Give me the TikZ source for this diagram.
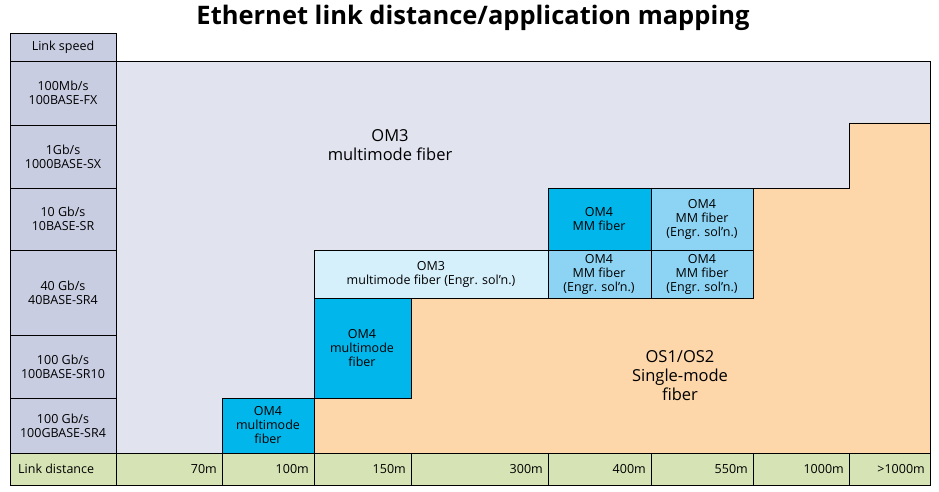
\documentclass[tikz,border=0pt]{standalone}
\usepackage{fontspec}
\setmainfont{Open Sans}
\definecolor{sidebg}{HTML}{C9CDE2}
\definecolor{omthree}{HTML}{E1E3EE}
\definecolor{single}{HTML}{FDD6AA}
\definecolor{distbg}{HTML}{D6E3B5}
\definecolor{omfour}{HTML}{00B6EA}
\definecolor{engr}{HTML}{8DD4F4}
\definecolor{engrlight}{HTML}{D6F0FB}
\tikzset{
  cell/.style={draw=black,line width=0.6pt},
  lbl/.style={font=\fontsize{12.5}{14}\selectfont,align=center,inner sep=0pt},
}
\begin{document}
\begin{tikzpicture}[x=1pt,y=-1pt]
\useasboundingbox (0,0) rectangle (939,492);
\node[font=\fontsize{25.5}{28}\selectfont\bfseries] (title) at (473,18) {Ethernet link distance/application mapping};
% regions
\fill[omthree] (116,61) rectangle (930,453);
\draw[cell,fill=single] (314,453) -- (314,398) -- (411,398) -- (411,298) -- (753,298) -- (753,188)
  -- (849,188) -- (849,123) -- (930,123) -- (930,453) -- cycle;
\draw[cell] (116,61) -- (930,61) -- (930,123);
\draw[cell] (849,123) -- (849,188) -- (548,188) -- (548,250) -- (314,250) -- (314,398) -- (222,398) -- (222,453);
% speed column
\foreach \ya/\yb/\txt in {33/61/{Link speed},61/125/{100Mb/s\\100BASE-FX},125/188/{1Gb/s\\1000BASE-SX},
  188/250/{10 Gb/s\\10BASE-SR},250/335/{40 Gb/s\\40BASE-SR4},335/398/{100 Gb/s\\100BASE-SR10},398/453/{100 Gb/s\\100GBASE-SR4}} {
  \draw[cell,fill=sidebg] (10,\ya) rectangle (116,\yb);
  \node[lbl] at (63,{(\ya+\yb)/2}) {\txt};
}
% distance row
\draw[cell,fill=distbg] (10,453) rectangle (930,485);
\node[lbl,anchor=west] (dist) at (18,469) {Link distance};
\foreach \xa/\xb/\txt in {116/222/70m,222/314/100m,314/411/150m,411/548/300m,548/651/400m,651/753/550m,753/849/1000m,849/930/{>}1000m} {
  \draw[cell] (\xa,453) -- (\xa,485);
  \node[lbl,anchor=east] at (\xb-5,469) {\txt};
}
% fibre boxes
\draw[cell,fill=omfour] (222,398) rectangle (314,453);
\node[lbl] (a) at (268,425) {OM4\\multimode\\fiber};
\draw[cell,fill=omfour] (314,298) rectangle (411,398);
\node[lbl] (b) at (362,348) {OM4\\multimode\\fiber};
\draw[cell,fill=engrlight] (314,250) rectangle (548,298);
\node[lbl] (c) at (431,274) {OM3\\multimode fiber (Engr. sol’n.)};
\draw[cell,fill=omfour] (548,188) rectangle (651,250);
\node[lbl] (d) at (599,219) {OM4\\MM fiber};
\draw[cell,fill=engr] (548,250) rectangle (651,298);
\node[lbl] (e) at (599,274) {OM4\\MM fiber\\(Engr. sol’n.)};
\draw[cell,fill=engr] (651,188) rectangle (753,250);
\node[lbl] (f) at (702,219) {OM4\\MM fiber\\(Engr. sol’n.)};
\draw[cell,fill=engr] (651,250) rectangle (753,298);
\node[lbl] (g) at (702,274) {OM4\\MM fiber\\(Engr. sol’n.)};
% region labels
\node[lbl,font=\fontsize{16.5}{19}\selectfont] (om3) at (390,145) {OM3\\multimode fiber};
\node[lbl,font=\fontsize{16.5}{19}\selectfont] (os) at (680,376) {OS1/OS2\\Single-mode\\fiber};
\end{tikzpicture}
\end{document}
